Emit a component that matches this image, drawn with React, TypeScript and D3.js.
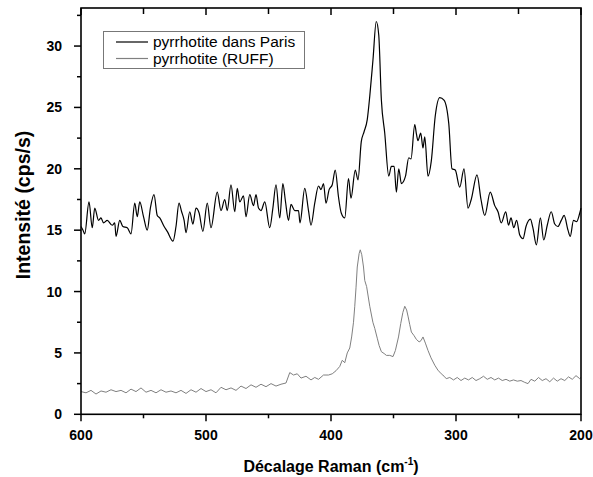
import * as d3 from 'd3'

// Raman spectrum, sample from Paris: [shift cm-1, intensity]
const parisSpectrum: [number, number][] = [
  [600, 15.3], [598.4, 15.0], [597, 14.7], [593.6, 17.3], [591, 15.2], [589, 16.8], [586, 15.8], [584, 16.0],
  [582, 15.6], [579, 15.8], [575, 15.4], [573, 15.6], [572, 14.5], [569, 15.8], [566.5, 15.3], [563, 15.2],
  [560, 14.7], [557, 17.2], [555, 16.1], [553, 17.3], [550, 16.1], [547, 15.0], [544.5, 16.8], [541.6, 17.9],
  [539, 16.2], [537, 16.0], [533.5, 15.3], [531, 14.9], [526.4, 14.1], [524, 15.3], [521.6, 17.2], [519.5, 16.5],
  [517.5, 15.8], [516, 14.8], [513, 16.5], [510.5, 15.5], [508, 16.8], [505.5, 16.4], [502.5, 14.9], [499, 17.2],
  [496, 15.2], [491, 18.1], [488, 16.6], [485, 17.5], [483, 16.6], [480, 18.7], [477, 16.5], [475, 18.4],
  [473, 17.3], [470, 17.8], [468, 16.1], [465, 17.9], [462, 17.0], [460, 17.9], [458, 16.8], [456, 16.6],
  [453, 17.3], [449, 15.2], [446.5, 16.8], [444, 18.7], [441, 16.0], [438.5, 18.8], [436.5, 17.4], [434, 15.8],
  [432, 17.1], [429, 16.6], [426, 16.6], [424.8, 15.6], [421, 18.4], [418, 16.6], [416, 15.4], [413, 17.2],
  [410, 18.6], [408, 18.3], [406, 18.8], [404, 17.2], [401.5, 18.3], [399, 18.7], [396.6, 19.9], [394, 17.7],
  [391.8, 16.4], [389, 16.0], [386, 19.2], [384, 17.6], [380.6, 19.9], [378.4, 19.1], [375.8, 22.2], [373.6, 23.0],
  [371, 24.0], [369, 25.9], [366.4, 28.9], [363.8, 32.0], [361.8, 30.9], [359.7, 25.6], [357, 22.9], [353.8, 19.4],
  [351.7, 20.2], [349.5, 20.2], [347.7, 18.1], [345.8, 20.0], [343.7, 18.8], [340.4, 19.4], [337.8, 20.9], [336, 20.8],
  [333, 23.6], [331.6, 22.8], [330.4, 22.3], [328.2, 22.9], [326.4, 21.7], [325, 22.6], [322.4, 19.4], [319.8, 20.6],
  [316.6, 24.3], [313, 25.8], [309.6, 25.6], [305.8, 23.7], [303.2, 20.0], [300.6, 19.9], [297, 18.5], [293.6, 20.0],
  [290.4, 16.8], [287.8, 17.5], [283.2, 19.5], [280, 17.5], [277, 16.2], [272.6, 18.1], [269, 17.0], [266.4, 16.5],
  [263.8, 15.6], [260.2, 16.5], [258, 15.4], [256, 16.0], [253.8, 15.2], [251.5, 15.8], [249, 14.6], [246.4, 14.3],
  [244, 15.3], [240.5, 15.9], [238.5, 15.2], [235.7, 13.8], [232.5, 16.0], [229.8, 14.2], [227, 15.4], [223.8, 16.5],
  [221, 15.5], [218.5, 15.3], [215.8, 15.8], [213.5, 16.2], [210.4, 15.0], [208.6, 14.5], [206, 15.8], [203.5, 15.7],
  [200.5, 16.6], [200, 16.8]
]

// reference spectrum (RUFF)
const ruffSpectrum: [number, number][] = [
  [600, 1.85], [596, 1.75], [592, 1.95], [588, 1.65], [584, 1.9], [580, 1.8], [576, 2.0], [572, 1.85],
  [568, 1.95], [564, 1.75], [560, 2.05], [556, 1.85], [552, 2.15], [548, 1.8], [544, 1.95], [540, 1.75],
  [536, 2.0], [532, 1.8], [528, 1.9], [524, 1.75], [520, 1.95], [516, 1.7], [512, 2.0], [508, 1.8],
  [504, 2.1], [500, 1.85], [496, 2.0], [492, 1.75], [488, 2.2], [484, 2.0], [480, 2.15], [476, 1.95],
  [472, 2.3], [468, 2.1], [464, 2.4], [460, 2.2], [456, 2.45], [452, 2.25], [448, 2.5], [444, 2.3],
  [440, 2.45], [436, 2.55], [433, 3.4], [430, 3.2], [427, 3.3], [424, 2.95], [420, 3.1], [416, 2.8],
  [413, 3.0], [410, 2.85], [406, 3.2], [402, 3.2], [399, 3.3], [396, 3.55], [393, 3.9], [391, 4.4],
  [389, 4.2], [387, 5.0], [385, 5.4], [383.5, 6.3], [382, 7.5], [381, 8.8], [380, 10.3], [379, 12.0],
  [377.5, 13.1], [376.6, 13.4], [375.4, 13.0], [374, 12.0], [373, 10.9], [371.5, 10.4], [369, 8.8], [366.5, 7.5],
  [365, 7.0], [363, 6.2], [361.5, 5.6], [359.7, 5.1], [357.5, 4.95], [355.7, 4.8], [353, 4.8], [350.4, 4.7],
  [348.5, 5.2], [346, 6.3], [344.2, 7.4], [342.5, 8.3], [341, 8.8], [339.5, 8.5], [338.4, 8.0], [337, 7.3],
  [335.7, 6.7], [333.5, 6.4], [331.7, 6.1], [329.5, 5.9], [328, 6.0], [326.4, 6.3], [324.5, 5.8], [322.4, 5.2],
  [320, 4.6], [317, 4.0], [314.5, 3.6], [311.8, 3.3], [309.5, 3.1], [307.8, 2.9], [305, 3.0], [302, 2.8],
  [299, 3.0], [296, 2.75], [293, 2.95], [290, 2.8], [287, 3.0], [284, 2.75], [281, 2.9], [278, 3.1],
  [275, 2.85], [272, 3.0], [269, 2.8], [266, 2.95], [263, 2.75], [260, 2.85], [257, 2.7], [254, 2.8],
  [251, 2.7], [248, 2.75], [245, 2.6], [242.4, 2.5], [240, 2.85], [237, 2.7], [234, 3.0], [231, 2.75],
  [228, 2.9], [225, 2.65], [222, 2.95], [219, 2.7], [216, 2.9], [213, 2.75], [210, 3.05], [207, 2.85],
  [204, 3.15], [201, 2.9], [200, 3.0]
]

const xMajorTicks = [600, 500, 400, 300, 200]
const xMinorTicks = [550, 450, 350, 250]
const yMajorTicks = [0, 5, 10, 15, 20, 25, 30]
const yMinorTicks = [2.5, 7.5, 12.5, 17.5, 22.5, 27.5, 32.5]

const legendItems = [
  { label: 'pyrrhotite dans Paris', color: '#000' },
  { label: 'pyrrhotite (RUFF)', color: '#808080' }
]

const W = 593
const H = 477
const font = 'Arial, "Liberation Sans", sans-serif'

export default function App() {
  const left = 81
  const right = 581
  const top = 8
  const bottom = 414.3

  const x = d3.scaleLinear().domain([600, 200]).range([left, right])
  const y = d3.scaleLinear().domain([0, 33.1]).range([bottom, top])

  const line = d3.line<[number, number]>()
    .x(d => x(d[0]))
    .y(d => y(d[1]))

  const smoothLine = d3.line<[number, number]>()
    .x(d => x(d[0]))
    .y(d => y(d[1]))
    .curve(d3.curveMonotoneX)

  return (
    <svg width={W} height={H} style={{ position: 'absolute', left: 0, top: 0, background: '#fff' }} fontFamily={font}>
      <rect width={W} height={H} fill="#fff" />

      {/* spectra */}
      <path d={line(ruffSpectrum) || ''} fill="none" stroke="#808080" strokeWidth={1} />
      <path d={smoothLine(parisSpectrum) || ''} fill="none" stroke="#000" strokeWidth={1.2} />

      {/* frame */}
      <rect x={left} y={top} width={right - left} height={bottom - top} fill="none" stroke="#000" strokeWidth={1.6} />

      {/* bottom + top ticks */}
      {xMajorTicks.map(t => (
        <g key={'xb' + t}>
          <line x1={x(t)} x2={x(t)} y1={bottom} y2={bottom + 7} stroke="#000" strokeWidth={1.5} />
          <line x1={x(t)} x2={x(t)} y1={top} y2={top + 7} stroke="#000" strokeWidth={1.5} />
          <text x={x(t)} y={bottom + 25.5} textAnchor="middle" fontSize={14} fontWeight="bold">{t}</text>
        </g>
      ))}
      {xMinorTicks.map(t => (
        <g key={'xm' + t}>
          <line x1={x(t)} x2={x(t)} y1={bottom} y2={bottom + 4} stroke="#000" strokeWidth={1.5} />
          <line x1={x(t)} x2={x(t)} y1={top} y2={top + 6} stroke="#000" strokeWidth={1.5} />
        </g>
      ))}

      {/* left axis */}
      {yMajorTicks.map(t => (
        <g key={'y' + t}>
          <line x1={left - 7} x2={left} y1={y(t)} y2={y(t)} stroke="#000" strokeWidth={1.5} />
          <text x={left - 19} y={y(t) + 5} textAnchor="end" fontSize={14} fontWeight="bold">{t}</text>
        </g>
      ))}
      {yMinorTicks.map(t => (
        <line key={'ym' + t} x1={left - 4} x2={left} y1={y(t)} y2={y(t)} stroke="#000" strokeWidth={1.5} />
      ))}

      {/* axis titles */}
      <text x={(left + right) / 2} y={472} textAnchor="middle" fontSize={16} fontWeight="bold">
        Décalage Raman (cm<tspan fontSize={10} dy={-7}>-1</tspan><tspan dy={7}>)</tspan>
      </text>
      <text transform="translate(30,205) rotate(-90)" textAnchor="middle" fontSize={19.5} fontWeight="bold">
        Intensité (cps/s)
      </text>

      {/* legend */}
      <rect x={103.5} y={31.5} width={201} height={37} fill="#fff" stroke="#777" strokeWidth={1} />
      {legendItems.map((d, i) => (
        <g key={d.label} transform={`translate(0,${42 + i * 16.5})`}>
          <line x1={116} x2={148} y1={0} y2={0} stroke={d.color} strokeWidth={1.2} />
          <text x={153} y={5} fontSize={15.5}>{d.label}</text>
        </g>
      ))}
    </svg>
  )
}
